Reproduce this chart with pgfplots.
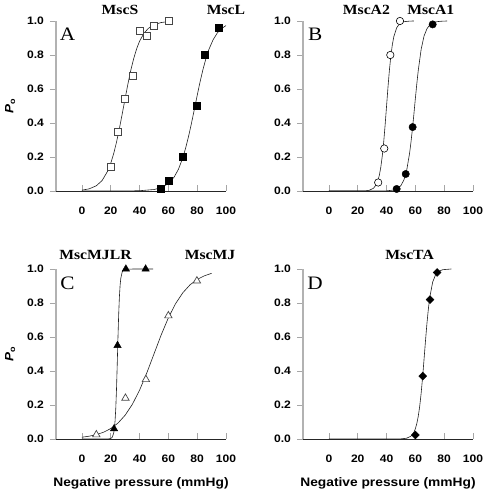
\documentclass[border=0pt]{standalone}
\usepackage{fontspec}
\setmainfont{Liberation Sans}[FakeStretch=1.12]
\newfontfamily\tnr{Liberation Serif}[FakeStretch=1.12]
\usepackage{pgfplots}
\pgfplotsset{compat=1.18}
\pgfplotsset{
  panel/.style={
    scale only axis, width=170pt, height=170pt,
    xmin=-18, xmax=100, ymin=0, ymax=1,
    axis x line*=bottom, axis y line*=left,
    x axis line style={-, black!85, line width=0.8pt},
    y axis line style={-, gray!60, line width=1.3pt},
    xtick={0,20,40,60,80,100}, ytick={0,0.2,0.4,0.6,0.8,1.0},
    xtick align=inside, ytick align=outside,
    major tick length=6pt,
    xtick style={gray!70, line width=0.8pt},
    ytick style={gray!70, line width=0.8pt},
    /pgf/number format/assume math mode=true,
    yticklabel style={/pgf/number format/.cd, fixed, fixed zerofill, precision=1, /tikz/.cd, font=\fontsize{10.8}{12}\selectfont\bfseries, xshift=-2.5pt},
    xticklabel style={font=\fontsize{10.8}{12}\selectfont\bfseries, yshift=-12pt},
    clip=false,
    xlabel style={at={(axis description cs:0.5,0)}, anchor=center, yshift=-44pt, font=\fontsize{12.3}{14}\selectfont\bfseries},
    ylabel style={at={(axis description cs:-0.27,0.5)}, anchor=center, font=\fontsize{12}{14}\selectfont\bfseries},
  },
  fit/.style={no markers, line width=0.6pt, color=gray!25!black},
  openmk/.style={only marks, mark options={fill=white, draw=gray!55!black, line width=0.7pt}},
  openmkb/.style={only marks, mark options={fill=white, draw=black, line width=0.6pt}},
  fillmk/.style={only marks, mark options={fill=black, draw=black}},
}
\newcommand{\ttl}[1]{{\tnr\fontsize{14}{16}\selectfont\bfseries #1}}
\newcommand{\lett}[1]{{\tnr\fontsize{19}{20}\selectfont #1}}
\begin{document}
\begin{tikzpicture}
\path[use as bounding box] (0,0) rectangle (484pt,495pt);

% ---------------- A ----------------
\begin{axis}[panel, at={(56pt,304pt)}, anchor=south west, ylabel={\textit{P}\textsubscript{o}}]
\addplot[fit] coordinates {(0,0.0051)(5,0.0126)(10,0.0307)(14,0.0614)(18,0.119)(20,0.163)(22,0.219)(24,0.287)(26,0.367)(28,0.455)(30,0.545)(32,0.633)(34,0.713)(36,0.781)(38,0.837)(40,0.881)(43,0.927)(46,0.956)(50,0.9785)(55,0.991)(60,0.9964)};
\addplot[fit] coordinates {(0,0)(20,0.0001)(30,0.0003)(40,0.0016)(50,0.0086)(55,0.0195)(60,0.0438)(64,0.0819)(67,0.128)(70,0.195)(72,0.253)(74,0.321)(76,0.397)(78,0.479)(80,0.562)(82,0.642)(84,0.714)(86,0.777)(88,0.830)(91,0.889)(94,0.930)(97,0.956)(100,0.973)};
\addplot[openmk, mark=square*, mark size=3.5pt] coordinates {(20,0.14)(25,0.35)(30,0.54)(35,0.68)(40,0.94)(45,0.91)(50,0.97)(60,1.0)};
\addplot[fillmk, mark=square*, mark size=3.5pt] coordinates {(55,0.012)(60,0.06)(70,0.2)(80,0.5)(85,0.8)(95,0.96)};
\node at (axis cs:-10,0.92) {\lett{A}};
\node at (axis cs:26.4,1.065) {\ttl{MscS}};
\node at (axis cs:100,1.065) {\ttl{MscL}};
\end{axis}

% ---------------- B ----------------
\begin{axis}[panel, at={(303pt,304pt)}, anchor=south west]
\addplot[fit] coordinates {(0,0)(25,0.0001)(28,0.0043)(31,0.0164)(33,0.0398)(34,0.0614)(35,0.0934)(36,0.140)(37,0.204)(38,0.287)(39,0.388)(40,0.5)(41,0.612)(42,0.713)(43,0.796)(44,0.860)(45,0.9066)(47,0.960)(49,0.9836)(52,0.9957)(56,0.9993)(59,1.0)};
\addplot[fit] coordinates {(0,0)(35,0.0001)(40,0.00095)(45,0.0056)(48,0.0162)(50,0.0325)(52,0.0642)(54,0.123)(56,0.223)(57,0.291)(58,0.369)(59,0.455)(60,0.545)(61,0.631)(62,0.709)(64,0.833)(66,0.911)(68,0.954)(70,0.977)(72,0.9886)(75,0.996)(78,0.9986)(82,1.0)};
\addplot[openmkb, mark=*, mark size=3.7pt] coordinates {(34.2,0.05)(38.4,0.25)(42.6,0.8)(49.3,1.0)};
\addplot[fillmk, mark=*, mark size=3.7pt] coordinates {(47,0.012)(53.3,0.1)(58.1,0.376)(72,0.98)};
\node at (axis cs:-9.6,0.92) {\lett{B}};
\node at (axis cs:26,1.065) {\ttl{MscA2}};
\node at (axis cs:70.7,1.065) {\ttl{MscA1}};
\end{axis}

% ---------------- C ----------------
\begin{axis}[panel, at={(56pt,56pt)}, anchor=south west, ylabel={\textit{P}\textsubscript{o}}, xlabel={Negative pressure (mmHg)}]
\addplot[fit] coordinates {(0,0)(18,0.0002)(20,0.0028)(21,0.0097)(22,0.033)(22.5,0.060)(23,0.107)(23.5,0.182)(24,0.294)(24.5,0.438)(25,0.593)(25.5,0.731)(26,0.835)(26.5,0.905)(27,0.947)(28,0.984)(29,0.9954)(31,0.9996)(49.5,1.0)};
\addplot[fit] coordinates {(0,0.0105)(5,0.0164)(10,0.0257)(15,0.0398)(20,0.0614)(25,0.0934)(30,0.140)(35,0.204)(40,0.287)(45,0.388)(50,0.5)(55,0.612)(60,0.713)(65,0.796)(70,0.860)(75,0.9066)(80,0.9386)(85,0.960)(90,0.9745)};
\addplot[openmk, mark=triangle*, mark size=4.3pt] coordinates {(10,0.025)(30.2,0.24)(44.4,0.35)(60,0.725)(79.8,0.93)};
\addplot[fillmk, mark=triangle*, mark size=4.3pt] coordinates {(22.3,0.06)(24.7,0.55)(30.5,1.0)(44.2,1.0)};
\node at (axis cs:-10,0.915) {\lett{C}};
\node at (axis cs:9.4,1.082) {\ttl{MscMJLR}};
\node at (axis cs:88.9,1.082) {\ttl{MscMJ}};
\end{axis}

% ---------------- D ----------------
\begin{axis}[panel, at={(303pt,56pt)}, anchor=south west, xlabel={Negative pressure (mmHg)}]
\addplot[fit] coordinates {(0,0)(45,0.0001)(50,0.0008)(54,0.0047)(57,0.0172)(59,0.040)(60,0.0607)(61,0.0908)(62,0.1336)(63,0.1924)(64,0.269)(65,0.362)(66,0.467)(67,0.575)(68,0.677)(69,0.764)(70,0.833)(72,0.923)(74,0.966)(76,0.9855)(79,0.996)(85,1.0)};
\addplot[fillmk, mark=square*, mark size=2.8pt, mark options={rotate=45}] coordinates {(60,0.024)(65.1,0.37)(70.2,0.82)(75.1,0.98)};
\node at (axis cs:-9.6,0.915) {\lett{D}};
\node at (axis cs:56,1.082) {\ttl{MscTA}};
\end{axis}
\end{tikzpicture}
\end{document}
